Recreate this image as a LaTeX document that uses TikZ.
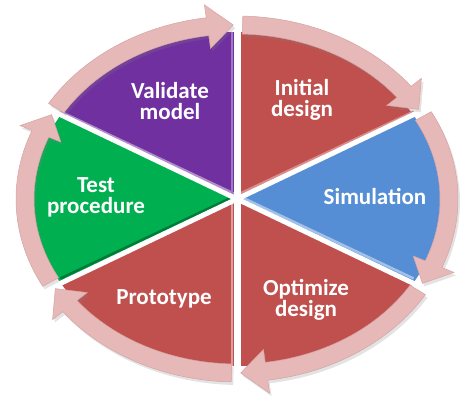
\documentclass[tikz,border=0pt]{standalone}
\usepackage{fontspec}
\setmainfont{Carlito}
\usetikzlibrary{shadows}
\definecolor{valpurple}{HTML}{7030A0}
\definecolor{cyclered}{HTML}{C0504D}
\definecolor{simblue}{HTML}{558ED5}
\definecolor{testgreen}{HTML}{00B050}
\definecolor{ringpink}{HTML}{E6B9B8}
\definecolor{ringedge}{HTML}{D4A3A2}
\begin{document}
\begin{tikzpicture}[x=1pt, y=1pt, every text node part/.style={align=center}]
        \tikzset{
          lab/.style={text=white, font=\bfseries\fontsize{23}{21}\selectfont},
          wedge/.style 2 args={insert path={(0,0) -- (#1:204pt and 167pt)
            arc[start angle=#1, end angle=#2, x radius=204pt, y radius=167pt] -- cycle}},
          ringarrow/.style 2 args={insert path={(#1:221pt and 183pt)
            arc[start angle=#1, end angle=#2+7, x radius=221pt, y radius=183pt]
            -- (#2+7:234pt and 196pt) -- (#2:212pt and 174pt) -- (#2+7:190pt and 152pt)
            -- (#2+7:203pt and 165pt)
            arc[start angle=#2+7, end angle=#1, x radius=203pt, y radius=165pt] -- cycle}},
          ring/.style={fill=ringpink, draw=ringedge, line width=.5pt,
            drop shadow={opacity=.22, shadow xshift=2pt, shadow yshift=-3pt}},
          gap/.style={draw=white, line width=5pt},
          stripe/.style={line width=2.5pt},
        }
        \useasboundingbox (-237,-213) rectangle (223,199);
        % pie wedges
        \fill[valpurple, wedge={90}{150}];
        \fill[cyclered, wedge={30}{90}];
        \fill[simblue, wedge={-30}{30}];
        \fill[cyclered, wedge={-90}{-30}];
        \fill[cyclered, wedge={-150}{-90}];
        \fill[testgreen, wedge={150}{210}];
        % bevel edges
        \draw[stripe, valpurple!55!white, yshift=4pt] (0,0) -- (150:204pt and 167pt);
        \draw[stripe, valpurple!65!white, xshift=-5pt] (0,0) -- (90:204pt and 167pt);
        \draw[stripe, cyclered!65!white, yshift=4pt] (0,0) -- (30:204pt and 167pt);
        \draw[stripe, simblue!55!white, yshift=4pt] (0,0) -- (-30:204pt and 167pt);
        \draw[stripe, cyclered!55!white, xshift=-5pt] (0,0) -- (-90:204pt and 167pt);
        \draw[stripe, testgreen!70!black, yshift=4pt] (0,0) -- (210:204pt and 167pt);
        % gaps between wedges
        \draw[gap, line width=7pt] (90:215pt and 178pt) -- (-90:215pt and 178pt);
        \draw[gap] (0,0) -- (30:215pt and 178pt);
        \draw[gap] (0,0) -- (-30:215pt and 178pt);
        \draw[gap] (0,0) -- (150:215pt and 178pt);
        \draw[gap] (0,0) -- (210:215pt and 178pt);
        % cycle arrows
        \path[ring, ringarrow={148.5}{91}];
        \path[ring, ringarrow={88.5}{31}];
        \path[ring, ringarrow={28.5}{-29}];
        \path[ring, ringarrow={-31.5}{-89}];
        \path[ring, ringarrow={-91.5}{-149}];
        \path[ring, ringarrow={-151.5}{-209}];
        % labels
        \node[lab] (validate) at (-67,98) {Validate\\model};
        \node[lab] (initial) at (65,99) {Initial\\design};
        \node[lab] (simulation) at (138,3) {Simulation};
        \node[lab] (optimize) at (69,-101) {Optimize\\design};
        \node[lab] (prototype) at (-73,-100) {Prototype};
        \node[lab] (test) at (-141,2) {Test\\procedure};
    \end{tikzpicture}
\end{document}
